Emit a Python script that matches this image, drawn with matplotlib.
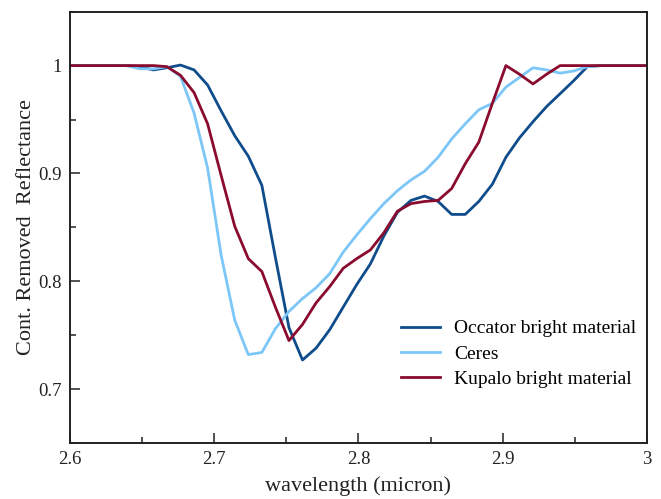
import matplotlib
matplotlib.use("Agg")
import matplotlib.pyplot as plt
from matplotlib.ticker import MultipleLocator, FormatStrFormatter

# wavelength grid (micron), spectrometer sampling ~9.4 nm
wavelength = [2.5920, 2.6014, 2.6108, 2.6202, 2.6296, 2.6390, 2.6484, 2.6578,
              2.6672, 2.6766, 2.6860, 2.6954, 2.7048, 2.7142, 2.7236, 2.7330,
              2.7424, 2.7518, 2.7612, 2.7706, 2.7800, 2.7894, 2.7988, 2.8082,
              2.8176, 2.8270, 2.8364, 2.8458, 2.8552, 2.8646, 2.8740, 2.8834,
              2.8928, 2.9022, 2.9116, 2.9210, 2.9304, 2.9398, 2.9492, 2.9586,
              2.9680, 2.9774, 2.9868, 2.9962, 3.0056]

occator = [1.0, 1.0, 1.0, 1.0, 1.0, 1.0, 0.999, 0.996,
           0.998, 1.0005, 0.996, 0.982, 0.958, 0.935, 0.916, 0.889,
           0.822, 0.757, 0.727, 0.738, 0.755, 0.776, 0.797, 0.816,
           0.842, 0.864, 0.875, 0.879, 0.874, 0.862, 0.862, 0.874,
           0.890, 0.915, 0.933, 0.948, 0.962, 0.974, 0.986, 0.999,
           1.0, 1.0, 1.0, 1.0, 1.0]

ceres = [1.0, 1.0, 1.0, 1.0, 1.0, 1.0, 0.997, 0.997,
         0.999, 0.990, 0.956, 0.905, 0.824, 0.764, 0.732, 0.734,
         0.756, 0.772, 0.784, 0.794, 0.807, 0.827, 0.843, 0.858,
         0.872, 0.884, 0.894, 0.902, 0.915, 0.932, 0.946, 0.959,
         0.965, 0.980, 0.989, 0.998, 0.996, 0.993, 0.995, 0.999,
         1.0, 1.0, 1.0, 1.0, 1.0]

kupalo = [1.0, 1.0, 1.0, 1.0, 1.0, 1.0, 1.0, 1.0,
          0.999, 0.991, 0.975, 0.946, 0.898, 0.851, 0.821, 0.809,
          0.776, 0.745, 0.760, 0.780, 0.795, 0.812, 0.821, 0.829,
          0.845, 0.865, 0.872, 0.874, 0.875, 0.886, 0.909, 0.929,
          0.965, 1.0, 0.992, 0.983, 0.992, 1.0, 1.0, 1.0,
          1.0, 1.0, 1.0, 1.0, 1.0]

labels = ["Occator bright material", "Ceres", "Kupalo bright material"]
colors = ["#0f4c8c", "#7cc6f8", "#8a0b2d"]

plt.rcParams['font.family'] = ['Liberation Serif', 'DejaVu Serif']

fig = plt.figure(figsize=(6.61, 4.99), dpi=100)
ax = fig.add_axes([0.1059, 0.1122, 0.8729, 0.8644])

for y, lab, c in zip([occator, ceres, kupalo], labels, colors):
    ax.plot(wavelength, y, color=c, lw=2.0, label=lab)

ax.set_xlim(2.6, 3.0)
ax.set_ylim(0.65, 1.05)
ax.xaxis.set_major_locator(MultipleLocator(0.1))
ax.xaxis.set_minor_locator(MultipleLocator(0.05))
ax.yaxis.set_major_locator(MultipleLocator(0.1))
ax.yaxis.set_minor_locator(MultipleLocator(0.05))
ax.xaxis.set_major_formatter(FormatStrFormatter('%g'))
ax.yaxis.set_major_formatter(FormatStrFormatter('%g'))

ax.tick_params(which='both', direction='in', top=False, right=False,
               labelsize=13.5, width=1.1, colors='#222222')
ax.tick_params(which='major', length=7.5, pad=6)
ax.tick_params(which='minor', length=4.5)
for s in ax.spines.values():
    s.set_linewidth(1.4)
    s.set_color('#222222')

ax.set_xlabel("wavelength (micron)", fontsize=16, color='#222222', labelpad=6)
ax.set_ylabel("Cont. Removed  Reflectance", fontsize=16, color='#222222', labelpad=1.5)

ax.legend(loc='lower right', frameon=False, fontsize=14, handlelength=2.0,
          handletextpad=0.75, labelspacing=0.4, borderpad=0, borderaxespad=0,
          bbox_to_anchor=(0.982, 0.127))

fig.savefig("out.png", dpi=100)
